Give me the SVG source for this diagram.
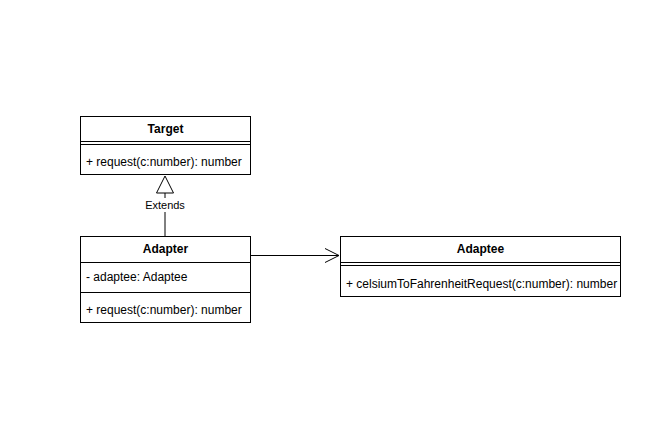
<svg xmlns="http://www.w3.org/2000/svg" width="657" height="432" viewBox="0 0 657 432">
<style>
.box{fill:#fff;stroke:#000;stroke-width:1}
.ln{stroke:#000;stroke-width:1;fill:none}
text{font-family:"Liberation Sans",Arial,sans-serif;font-size:12px;fill:#000}
.t{font-weight:bold;text-anchor:middle}
.lbl{font-size:11px;text-anchor:middle}
</style>
<rect width="657" height="432" fill="#fff"/>
<g id="connectors">
<line class="ln" x1="165" y1="236.5" x2="165" y2="193"/>
<polygon points="165,176 156.5,193 173.5,193" fill="#fff" stroke="#000"/>
<rect x="143" y="198" width="44" height="14" fill="#fff"/>
<text class="lbl" x="165" y="209">Extends</text>
<line class="ln" x1="250" y1="255.5" x2="339" y2="255.5"/>
<polyline class="ln" points="325,248.5 339,255.5 325,262.5"/>
</g>
<g id="target">
<rect class="box" x="80.5" y="116.5" width="170" height="58"/>
<line class="ln" x1="80.5" y1="141.5" x2="250.5" y2="141.5"/>
<line class="ln" x1="80.5" y1="144.5" x2="250.5" y2="144.5"/>
<text class="t" x="165.5" y="133">Target</text>
<text x="86" y="166">+ request(c:number): number</text>
</g>
<g id="adapter">
<rect class="box" x="80.5" y="236.5" width="170" height="86"/>
<line class="ln" x1="80.5" y1="262.5" x2="250.5" y2="262.5"/>
<line class="ln" x1="80.5" y1="292.5" x2="250.5" y2="292.5"/>
<text class="t" x="165.5" y="253">Adapter</text>
<text x="86" y="281">- adaptee: Adaptee</text>
<text x="86" y="314">+ request(c:number): number</text>
</g>
<g id="adaptee">
<rect class="box" x="340.5" y="236.5" width="280" height="60"/>
<line class="ln" x1="340.5" y1="262.5" x2="620.5" y2="262.5"/>
<line class="ln" x1="340.5" y1="265.5" x2="620.5" y2="265.5"/>
<text class="t" x="480.5" y="253">Adaptee</text>
<text x="346" y="288">+ celsiumToFahrenheitRequest(c:number): number</text>
</g>
</svg>
